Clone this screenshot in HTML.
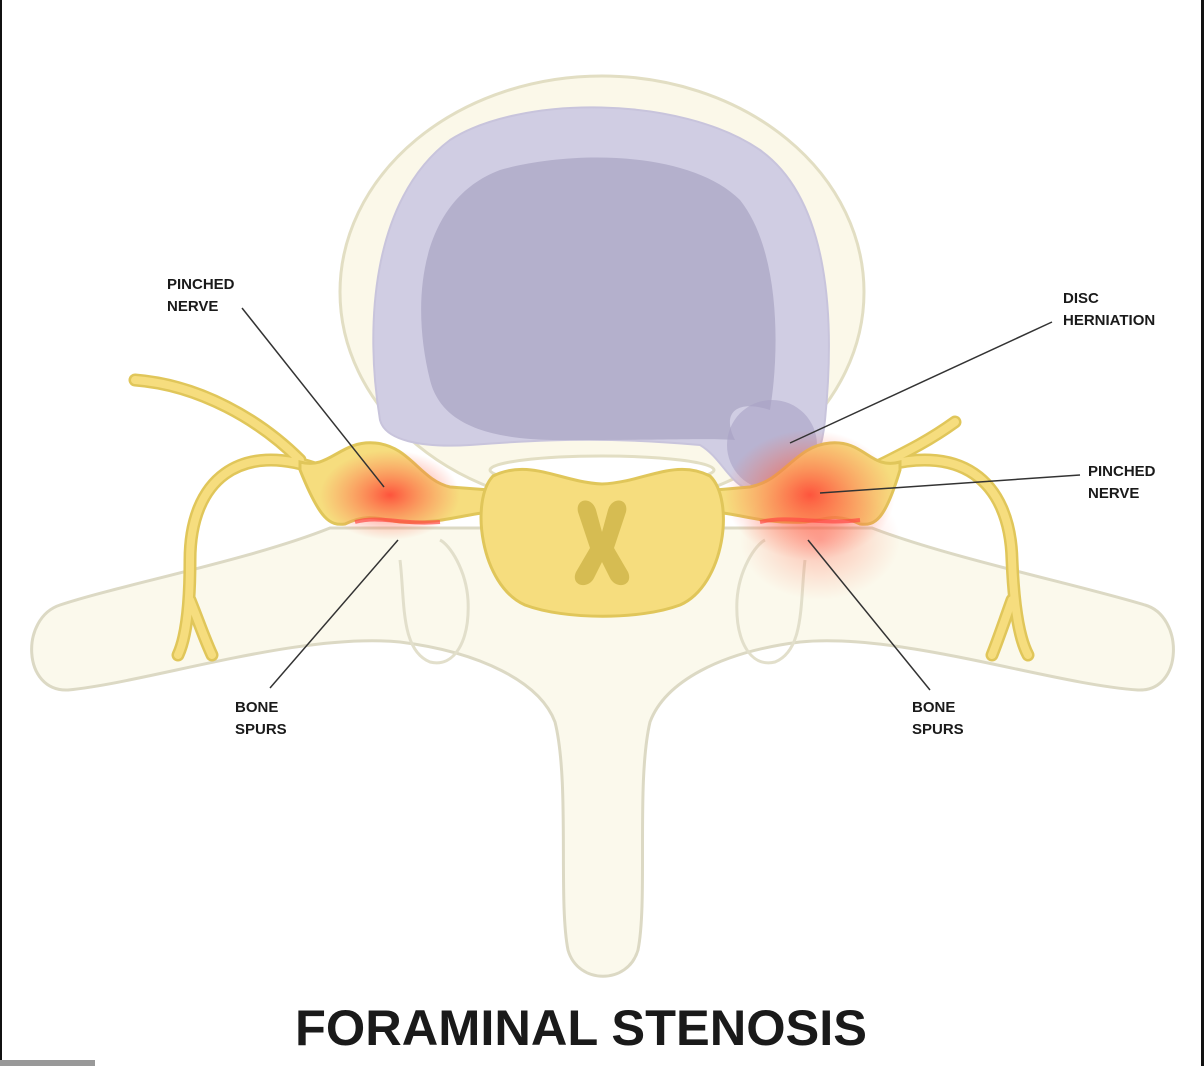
<!DOCTYPE html>
<html><head><style>
html,body{margin:0;padding:0;background:#fff;}
svg{display:block;}
text{font-family:"Liberation Sans",sans-serif;font-weight:bold;fill:#1a1a1a;}
</style></head><body>
<svg width="1204" height="1066" viewBox="0 0 1204 1066" xmlns="http://www.w3.org/2000/svg">
<defs>
<radialGradient id="red" cx="50%" cy="50%" r="50%">
<stop offset="0" stop-color="#ff3b30" stop-opacity="0.85"/>
<stop offset="0.5" stop-color="#ff5a40" stop-opacity="0.45"/>
<stop offset="1" stop-color="#ff6a50" stop-opacity="0"/>
</radialGradient>
</defs>
<rect width="1204" height="1066" fill="#fff"/>
<rect x="0" y="0" width="2" height="1066" fill="#111"/>
<rect x="1201" y="0" width="3" height="1066" fill="#111"/>
<rect x="0" y="1060" width="95" height="6" fill="#999"/>

<path d="M330,528 C250,560 120,585 60,605 C20,618 22,692 68,690 C150,682 300,632 400,642 C480,652 540,682 555,722 C570,782 558,900 568,950 C578,985 628,985 638,950 C648,900 636,782 650,722 C665,682 720,652 800,642 C900,632 1050,684 1138,690 C1184,692 1184,616 1145,605 C1080,585 950,558 872,528 Z" fill="#fbf9ec" stroke="#dcd9c4" stroke-width="3"/>
<path d="M400,560 C405,600 400,650 430,662 C455,668 470,640 468,600 C466,570 450,545 440,540" fill="none" stroke="#e2dfcb" stroke-width="3"/>
<path d="M805,560 C800,600 805,650 775,662 C750,668 735,640 737,600 C739,570 755,545 765,540" fill="none" stroke="#e2dfcb" stroke-width="3"/>

<ellipse cx="602" cy="292" rx="262" ry="216" fill="#fbf8e9" stroke="#e2dec3" stroke-width="3"/>
<path d="M380,420 C365,330 370,200 450,140 C520,95 680,95 760,150 C830,200 835,320 825,420 C820,470 800,495 760,492 C730,490 725,460 700,445 C620,438 560,438 470,445 C420,448 385,440 380,420 Z" fill="#d0cde3" stroke="#c8c4dc" stroke-width="2"/>
<path d="M430,380 C410,300 420,200 500,170 C570,150 690,150 740,200 C780,250 780,350 770,410 C740,400 720,410 735,440 C710,438 680,440 560,440 C480,440 440,420 430,380 Z" fill="#b4b0cc"/>
<ellipse cx="772" cy="445" rx="45" ry="45" fill="#a9a2c4" opacity="0.6"/>
<ellipse cx="602" cy="470" rx="112" ry="14" fill="#fff" stroke="#e2dec3" stroke-width="3"/>

<g fill="none" stroke="#e0c65a" stroke-width="13" stroke-linecap="round">
<path d="M135,380 C200,385 260,420 300,460"/>
<path d="M320,470 C240,440 190,480 190,560 C190,610 185,640 178,655"/>
<path d="M190,600 C200,625 205,640 212,655"/>
<path d="M955,422 C930,440 910,450 880,465"/>
<path d="M870,470 C960,440 1010,480 1012,560 C1014,610 1020,640 1028,655"/>
<path d="M1012,600 C1003,625 998,640 992,655"/>
</g>
<g fill="none" stroke="#f6dd7e" stroke-width="8" stroke-linecap="round">
<path d="M135,380 C200,385 260,420 300,460"/>
<path d="M320,470 C240,440 190,480 190,560 C190,610 185,640 178,655"/>
<path d="M190,600 C200,625 205,640 212,655"/>
<path d="M955,422 C930,440 910,450 880,465"/>
<path d="M870,470 C960,440 1010,480 1012,560 C1014,610 1020,640 1028,655"/>
<path d="M1012,600 C1003,625 998,640 992,655"/>
</g>
<path d="M300,462 C330,470 340,440 375,443 C410,446 420,480 450,487 L490,490 L490,512 C460,515 440,524 400,522 C380,520 370,512 345,524 C330,526 320,520 300,470 Z" fill="#f6dd7e" stroke="#e0c65a" stroke-width="3"/>
<path d="M900,462 C870,470 865,440 830,443 C795,446 785,480 750,487 L715,490 L715,512 C745,515 765,524 805,522 C825,520 835,512 860,524 C875,526 885,520 900,470 Z" fill="#f6dd7e" stroke="#e0c65a" stroke-width="3"/>
<path d="M493,476 C530,458 560,482 602,484 C645,482 675,458 710,476 C735,500 725,585 680,605 C640,620 565,620 525,605 C480,585 470,500 493,476 Z" fill="#f6dd7e" stroke="#e0c65a" stroke-width="3"/>
<path d="M578,512 C575,498 592,496 596,510 L602,532 L608,510 C612,496 629,498 626,512 L614,548 L628,572 C634,586 616,590 610,578 L602,562 L594,578 C588,590 570,586 576,572 L590,548 Z" fill="#d6bc52"/>

<ellipse cx="390" cy="495" rx="70" ry="45" fill="url(#red)"/>
<ellipse cx="810" cy="495" rx="85" ry="65" fill="url(#red)"/>
<ellipse cx="820" cy="540" rx="80" ry="60" fill="url(#red)" opacity="0.4"/>
<path d="M355,522 C380,515 400,525 440,522" stroke="#ff4a45" stroke-width="4" fill="none" opacity="0.7"/>
<path d="M760,522 C790,515 820,525 860,520" stroke="#ff4a45" stroke-width="4" fill="none" opacity="0.7"/>

<g stroke="#333" stroke-width="1.5">
<line x1="242" y1="308" x2="384" y2="487"/>
<line x1="398" y1="540" x2="270" y2="688"/>
<line x1="1052" y1="322" x2="790" y2="443"/>
<line x1="1080" y1="475" x2="820" y2="493"/>
<line x1="808" y1="540" x2="930" y2="690"/>
</g>
<g font-size="15">
<text x="167" y="289">PINCHED</text><text x="167" y="311">NERVE</text>
<text x="235" y="712">BONE</text><text x="235" y="734">SPURS</text>
<text x="1063" y="303">DISC</text><text x="1063" y="325">HERNIATION</text>
<text x="1088" y="476">PINCHED</text><text x="1088" y="498">NERVE</text>
<text x="912" y="712">BONE</text><text x="912" y="734">SPURS</text>
</g>
<text x="295" y="1045" font-size="50" textLength="572" lengthAdjust="spacingAndGlyphs">FORAMINAL STENOSIS</text>
</svg>
</body></html>
